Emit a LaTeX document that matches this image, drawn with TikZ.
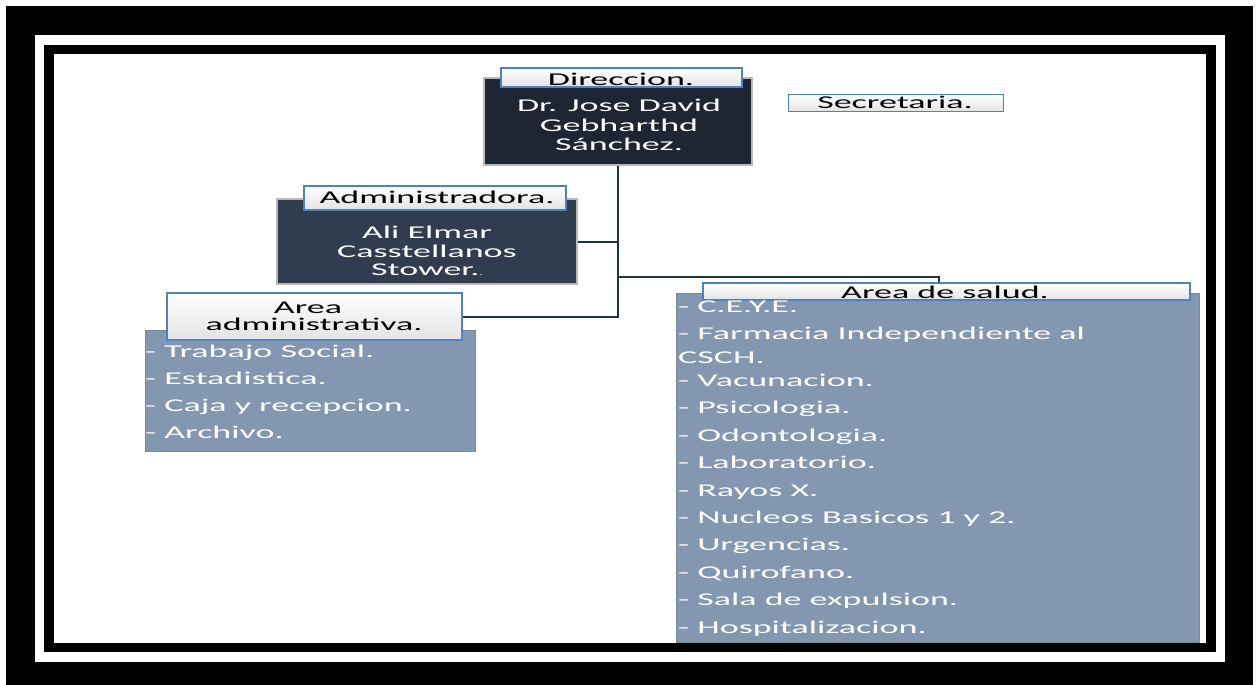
\documentclass[tikz,border=0pt]{standalone}
\usepackage{fontspec}
\setmainfont{Carlito}[FakeStretch=2.0]
\definecolor{jefe}{HTML}{1F2633}
\definecolor{admin}{HTML}{313C4F}
\definecolor{lista}{HTML}{8497B0}
\definecolor{borde}{HTML}{4F81BD}
\definecolor{linea}{HTML}{1F3347}
\tikzset{
  darkbox/.style={fill=#1, draw=gray!55, line width=1.5pt, inner sep=0pt},
  listbox/.style={fill=lista, draw=gray!70!lista, line width=1pt, inner sep=0pt},
  titlebox/.style={top color=white, bottom color=gray!22, draw=borde, line width=1.2pt, inner sep=0pt},
  txt/.style={inner sep=0pt, font=\fontsize{18}{19}\selectfont},
  wtxt/.style={txt, text=white},
  conector/.style={draw=linea, line width=2pt},
}
\begin{document}
\begin{tikzpicture}[x=1pt,y=-1pt]
\useasboundingbox (0,0) rectangle (1259,685);
% marco doble
\fill (6,6) rectangle (1253,685);
\fill[white] (35,35) rectangle (1225,662);
\fill (44,45) rectangle (1216,652);
\fill[white] (54,54) rectangle (1206,643);

% cajas
\node[darkbox=jefe, minimum width=268pt, minimum height=87pt] (dir) at (618,121.5) {};
\node[darkbox=admin, minimum width=300pt, minimum height=85pt] (adm) at (427,241.5) {};
\node[listbox, minimum width=330pt, minimum height=121pt] (aadm) at (310,390.5) {};
\node[listbox, minimum width=523pt, minimum height=349pt] (salud) at (937.5,467.5) {};

% titulos
\node[titlebox, minimum width=241pt, minimum height=19pt] (dirlab) at (621.5,77.5) {};
\node[titlebox, minimum width=215pt, minimum height=17pt] (sec) at (896,103) {};
\node[titlebox, minimum width=262pt, minimum height=24pt] (admlab) at (435,198) {};
\node[titlebox, minimum width=295pt, minimum height=47pt] (aadmlab) at (314.5,316.5) {};
\node[titlebox, minimum width=487pt, minimum height=17pt] (saludlab) at (946.5,291.5) {};

% conectores
\coordinate (jsal) at (618,277);
\draw[conector] (dir.south) -- (dir.south |- aadmlab.east) -- (aadmlab.east);
\draw[conector] (dir.south |- adm.east) -- (adm.east);
\draw[conector] (jsal) -| ([xshift=-7.5pt]saludlab.north);

\node[txt, anchor=base] (dirt) at (621,85) {Direccion.};
\node[txt, anchor=base] (sect) at (895,108) {Secretaria.};
\node[txt, anchor=base] (admt) at (437,203) {Administradora.};
\node[txt, anchor=base] (aadmt1) at (308,313) {Area};
\node[txt, anchor=base] (aadmt2) at (314,330) {administrativa.};
\node[txt, anchor=base] (saludt) at (945,298) {Area de salud.};

% nombres
\foreach \t/\y [count=\i] in {Dr. Jose David/111, Gebharthd/131, Sánchez./150}
  \node[wtxt, anchor=base] (dirl\i) at (619,\y) {\t};
\foreach \t/\y [count=\i] in {Ali Elmar/238, Casstellanos/257, Stower.{\scriptsize.}/275}
  \node[wtxt, anchor=base] (adml\i) at (427,\y) {\t};

% listas
\foreach \t/\y [count=\i] in {Trabajo Social./357, Estadistica./384,
    Caja y recepcion./411, Archivo./438}
  \node[wtxt, anchor=base west] (aadml\i) at (145,\y) {- \t};
\foreach \t/\y [count=\i] in {- C.E.Y.E./312, - Farmacia Independiente al/339,
    CSCH./363, - Vacunacion./386, - Psicologia./413, - Odontologia./441,
    - Laboratorio./468, - Rayos X./496, - Nucleos Basicos 1 y 2./523,
    - Urgencias./550, - Quirofano./578, - Sala de expulsion./605,
    - Hospitalizacion./633}
  \node[wtxt, anchor=base west] (saludl\i) at (678,\y) {\t};
\end{tikzpicture}
\end{document}
